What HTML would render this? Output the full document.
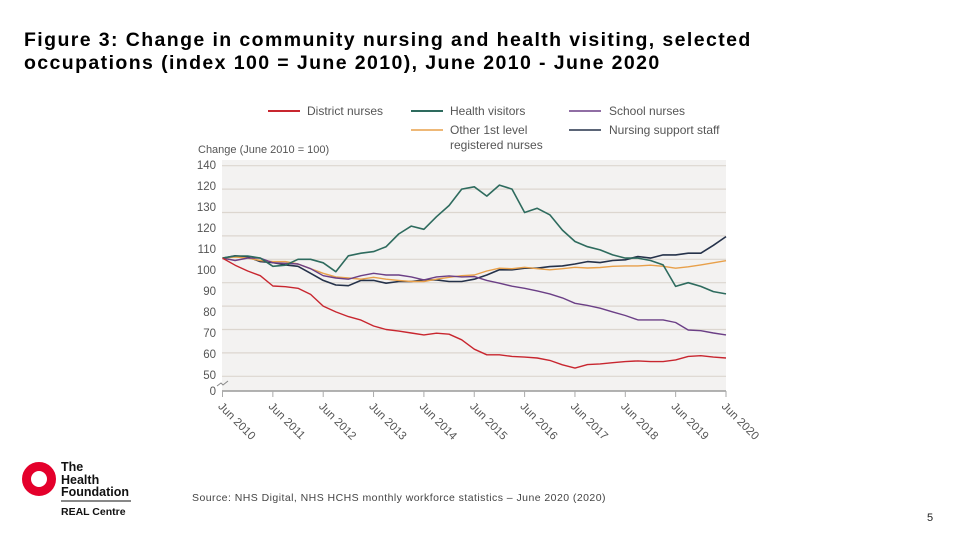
<!DOCTYPE html>
<html><head><meta charset="utf-8"><style>
body{margin:0;background:#fff;width:960px;height:540px;overflow:hidden;font-family:"Liberation Sans",Arial,sans-serif;}
.title{position:absolute;left:24px;top:29px;font-size:19.5px;font-weight:bold;line-height:23px;color:#000;letter-spacing:1.4px;white-space:nowrap;}
</style></head><body>
<div class="title">Figure 3: Change in community nursing and health visiting, selected<br>occupations (index 100 = June 2010), June 2010 - June 2020</div>
<svg id="chart" width="960" height="540" style="position:absolute;left:0;top:0">
<rect x="222" y="160" width="504" height="231" fill="#f3f2f1"/>
<g id="grid"></g><g id="lines"></g><g id="axes"></g>
<g font-size="12" fill="#555">
<line x1="268" y1="111" x2="300" y2="111" stroke="#c8262f" stroke-width="2"/><text x="307" y="115">District nurses</text>
<line x1="411" y1="111" x2="443" y2="111" stroke="#2e6b5e" stroke-width="2"/><text x="450" y="115">Health visitors</text>
<line x1="569" y1="111" x2="601" y2="111" stroke="#6b3f86" stroke-width="1.5"/><text x="609" y="115">School nurses</text>
<line x1="411" y1="130" x2="443" y2="130" stroke="#e8a04a" stroke-width="1.5"/><text x="450" y="134">Other 1st level</text><text x="450" y="149">registered nurses</text>
<line x1="569" y1="130" x2="601" y2="130" stroke="#25324a" stroke-width="1.5"/><text x="609" y="134">Nursing support staff</text>
</g>
<text x="198" y="153" font-size="11" fill="#555">Change (June 2010 = 100)</text>
<circle cx="39" cy="479" r="12.5" fill="none" stroke="#e4002b" stroke-width="9"/>
<g font-weight="bold" fill="#111">
<text x="61" y="471" font-size="12.5">The</text><text x="61" y="484" font-size="12.5">Health</text><text x="61" y="496" font-size="12.5">Foundation</text>
<line x1="61" y1="501" x2="131" y2="501" stroke="#111" stroke-width="1"/>
<text x="61" y="515" font-size="10.5">REAL Centre</text></g>
<text x="192" y="501" font-size="10.5" letter-spacing="0.45" fill="#444">Source: NHS Digital, NHS HCHS monthly workforce statistics – June 2020 (2020)</text>
<text x="927" y="521" font-size="11" fill="#222">5</text>
</svg>
<script>
const years=["Jun 2010","Jun 2011","Jun 2012","Jun 2013","Jun 2014","Jun 2015","Jun 2016","Jun 2017","Jun 2018","Jun 2019","Jun 2020"];
const gridValues=[140,130,120,110,100,90,80,70,60,50];
const tickLabels=["140","120","130","120","110","100","90","80","70","60","50","0"];
const district=[100.5,97.5,95,93,88.6,88.3,87.6,85,80,77.5,75.5,74,71.5,70,69.3,68.5,67.7,68.4,68,65.6,61.6,59.2,59.2,58.5,58.2,57.8,56.8,54.9,53.5,55,55.3,55.8,56.3,56.6,56.3,56.3,57,58.5,58.8,58.2,57.8];
const healthVisitors=[100.5,101.4,101.4,100.5,97,97.5,100,100,98.5,94.7,101.5,102.6,103.3,105.4,110.8,114.2,112.8,118.2,123,130,131,127,131.7,130,120,121.8,119,112.5,107.6,105.4,104,101.9,100.5,100.5,99.5,97.6,88.4,90,88.4,86.2,85.2];
const schoolNurses=[100.5,99.5,100.5,100.5,98.5,98.3,98,96,93,92,91.5,93,94,93.3,93.3,92.5,91.2,92.5,92.9,92.5,92.6,91,89.8,88.5,87.6,86.5,85.2,83.5,81.2,80.3,79.1,77.5,76,74.1,74.1,74.1,73,69.8,69.5,68.5,67.7];
const otherNurses=[100.5,101,100.5,99.5,99,99,98,96,94,92.5,92,91.5,92.3,91.5,91,90.5,90.5,91.5,92.3,93,93.3,95,96.2,96,96.6,96,95.5,96,96.6,96.3,96.5,97,97.2,97.2,97.5,97,96.2,96.8,97.6,98.5,99.4];
const supportStaff=[100.5,101.5,101,99,98.6,97.6,97,94,91,89,88.7,91,91,89.8,90.5,90.5,91.2,91.2,90.5,90.5,91.5,93.3,95.5,95.5,96.2,96.2,96.9,97.2,98,99,98.6,99.5,99.8,101.2,100.5,101.9,101.9,102.6,102.6,106,109.7];
const NS="http://www.w3.org/2000/svg";
const x0=222.5,x1=726,yearsSpan=10;
function xs(t){return x0+(x1-x0)*t/yearsSpan;}
function ys(v){return 259.3-(v-100)*2.34;}
function mk(tag,attrs,parent){const e=document.createElementNS(NS,tag);for(const k in attrs)e.setAttribute(k,attrs[k]);parent.appendChild(e);return e;}
const grid=document.getElementById('grid'),lines=document.getElementById('lines'),axes=document.getElementById('axes');
gridValues.forEach(v=>{const l=mk('line',{x1:222,x2:726,y1:ys(v),y2:ys(v),stroke:'#dcd6cf','stroke-width':1.2},grid);

});
tickLabels.forEach((s,i)=>{const y=i<11?169+i*21:395;const t=mk('text',{x:216,y:y,'text-anchor':'end','font-size':11.5,fill:'#555'},axes);t.textContent=s;

});
const base=mk('line',{x1:222,x2:726,y1:391,y2:391,stroke:'#999','stroke-width':1.5},axes);


const brk=mk('path',{d:'M217,386 l4,-3 l2,2 l5,-4',fill:'none',stroke:'#888','stroke-width':1},axes);


years.forEach((y,i)=>{const x=xs(i);const tk=mk('line',{x1:x,x2:x,y1:391,y2:397,stroke:'#aaa','stroke-width':1},axes);


const t=mk('text',{x:0,y:0,'font-size':11.5,fill:'#555',transform:`translate(${x-5},${407}) rotate(45)`},axes);t.textContent=y;

});
const series=[[supportStaff,'#25324a',1.6,'nursing-support-staff-line'],[otherNurses,'#e8a04a',1.4,'other-nurses-line'],[schoolNurses,'#6b3f86',1.4,'school-nurses-line'],[healthVisitors,'#2e6b5e',1.6,'health-visitors-line'],[district,'#c8262f',1.4,'district-nurses-line']];
series.forEach(([d,c,w,n])=>{const pts=d.map((v,i)=>xs(i*yearsSpan/(d.length-1)).toFixed(1)+','+ys(v).toFixed(1)).join(' ');
const p=mk('polyline',{points:pts,fill:'none',stroke:c,'stroke-width':w,'stroke-linejoin':'round'},lines);

});
</script>
</body></html>
